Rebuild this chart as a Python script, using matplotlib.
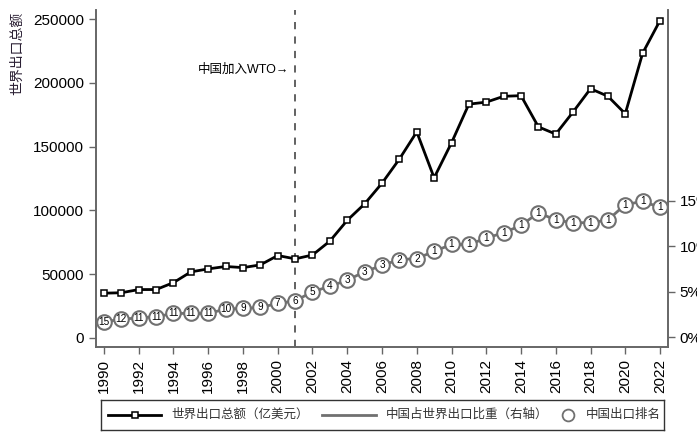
import matplotlib
matplotlib.use("Agg")
import matplotlib.pyplot as plt

plt.rcParams['font.family'] = ['Liberation Sans', 'Noto Sans CJK SC', 'DejaVu Sans']

years = list(range(1990, 2023))
world_exports = [34950, 35300, 37800, 37820, 43260, 51680, 54030, 55920, 55030, 57190,
                 64520, 61910, 64920, 75860, 92180, 105090, 121310, 140240, 161600, 125550,
                 153010, 183380, 184960, 189530, 190050, 165550, 159870, 177300, 195500, 189600,
                 175830, 223370, 249040]
china_share = [1.68, 1.95, 2.12, 2.23, 2.6, 2.6, 2.6, 3.08, 3.15, 3.26,
               3.7, 3.99, 4.98, 5.6, 6.26, 7.2, 7.9, 8.53, 8.65, 9.45,
               10.2, 10.2, 10.9, 11.5, 12.3, 13.7, 12.9, 12.6, 12.6, 12.9,
               14.6, 14.95, 14.3]
china_rank = [15, 12, 11, 11, 11, 11, 11, 10, 9, 9,
              7, 6, 5, 4, 3, 3, 3, 2, 2, 1,
              1, 1, 1, 1, 1, 1, 1, 1, 1, 1,
              1, 1, 1]
x_ticks = list(range(1990, 2023, 2))
left_ticks = [0, 50000, 100000, 150000, 200000, 250000]
right_ticks = [0, 5, 10, 15]
right_labels = ['0%', '5%', '10%', '15%']
legend_labels = ['世界出口总额（亿美元）', '中国占世界出口比重（右轴）', '中国出口排名']

W, H = 697, 433
fig = plt.figure(figsize=(W / 100, H / 100), dpi=100)
ax = fig.add_axes([96 / W, 1 - 347 / H, (668 - 96) / W, (347 - 10) / H])
ax2 = ax.twinx()

spine_c = '#666666'
share_c = '#707070'
for a in (ax, ax2):
    a.spines['top'].set_visible(False)
    for s in ('left', 'right', 'bottom'):
        a.spines[s].set_color(spine_c)
        a.spines[s].set_linewidth(1.2)
    a.tick_params(colors=spine_c, labelcolor='black', length=5, width=1.0, labelsize=11)

ax.set_xlim(1989.54, 2022.46)
ax.set_ylim(-7300, 257300)
ax2.set_ylim(-1.1, 36.05)

ax.axvline(2001, color='#555555', lw=1.3, dashes=(4, 4), zorder=1)

ax.plot(years, world_exports, color='black', lw=2, marker='s', markersize=4.6,
        markerfacecolor='white', markeredgecolor='black', markeredgewidth=1.1, zorder=3)

ax2.plot(years, china_share, color=share_c, lw=2, zorder=2)
ax2.plot(years, china_share, linestyle='none', marker='o', markersize=10.5,
         markerfacecolor='white', markeredgecolor=share_c, markeredgewidth=1.5, zorder=3)
for x, y, r in zip(years, china_share, china_rank):
    ax2.text(x, y, str(r), ha='center', va='center', fontsize=7.2, color='black', zorder=4)

ax.set_xticks(x_ticks)
ax.set_xticklabels([str(v) for v in x_ticks], rotation=90)
ax.set_yticks(left_ticks)
ax.set_yticklabels([str(v) for v in left_ticks])
ax2.set_yticks(right_ticks)
ax2.set_yticklabels(right_labels)

ax.text(2000.65, 210200, '中国加入WTO→', ha='right', va='center', fontsize=9, color='black')

fig.text(17 / W, 1 - 12 / H, '世界出口总额', rotation=90, ha='center', va='top',
         fontsize=10, color='#2a1f33')

# legend box (drawn in its own pixel-based axes)
L, R, T, B = 101, 664, 400, 430
lax = fig.add_axes([L / W, 1 - B / H, (R - L) / W, (B - T) / H])
lax.set_xlim(L, R)
lax.set_ylim(B, T)
lax.set_xticks([])
lax.set_yticks([])
for s in lax.spines.values():
    s.set_color('#333333')
    s.set_linewidth(1.0)
yc = 415
lax.plot([108, 161], [yc, yc], color='black', lw=2)
lax.plot([134.5], [yc], marker='s', markersize=4.6, markerfacecolor='white',
         markeredgecolor='black', markeredgewidth=1.1)
lax.text(171, yc, legend_labels[0], ha='left', va='center', fontsize=9, color='#333333')
lax.plot([322, 376], [yc, yc], color=share_c, lw=2)
lax.text(386, yc, legend_labels[1], ha='left', va='center', fontsize=9, color='#333333')
lax.plot([568], [yc], marker='o', markersize=8.5, markerfacecolor='white',
         markeredgecolor=share_c, markeredgewidth=1.3)
lax.text(586, yc, legend_labels[2], ha='left', va='center', fontsize=9, color='#333333')

fig.savefig('out.png', dpi=100)
